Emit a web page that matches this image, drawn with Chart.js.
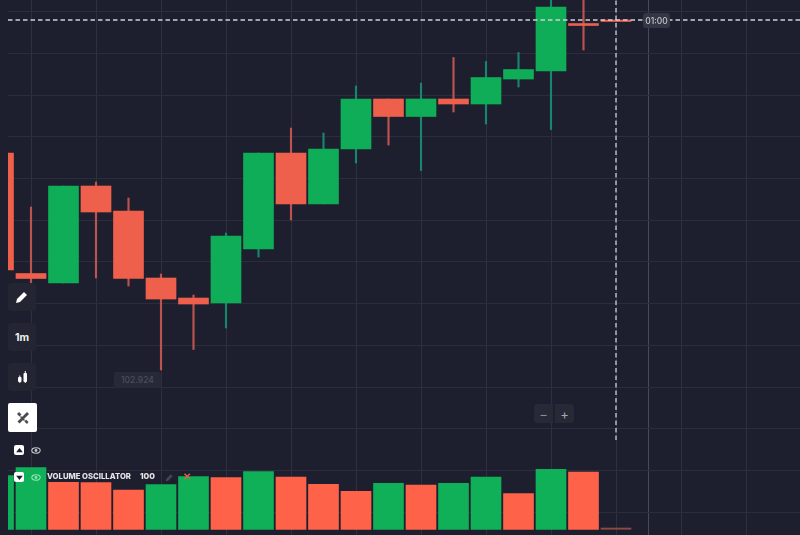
<!DOCTYPE html>
<html><head><meta charset="utf-8">
<script src="https://cdn.jsdelivr.net/npm/chart.js@4"></script>
<style>
html,body{margin:0;padding:0;background:#1d1f2e;width:800px;height:535px;overflow:hidden}
#wrap{position:relative;width:800px;height:535px;font-family:Inter,Roboto,sans-serif}
canvas{position:absolute;left:0;top:0}
.ov{position:absolute;display:flex;align-items:center;justify-content:center;box-sizing:border-box}
.btn{left:8px;width:28px;height:28px;background:#232533;border-radius:3px;color:#eee;font-weight:700;font-size:10.5px}
.sq{left:14px;width:10px;height:10px;background:#fff;border-radius:2px}
</style></head><body>
<div id="wrap"><canvas id="c" width="800" height="535"></canvas>

<div class="ov btn" style="top:283px"><svg width="14" height="14" viewBox="0 0 14 14"><path d="M1 13l1-4 7-7 3 3-7 7z" fill="#fff"/></svg></div>
<div class="ov btn" style="top:323px">1m</div>
<div class="ov btn" style="top:363px"><svg width="11" height="12" viewBox="0 0 11 12"><rect x="1" y="6" width="3.5" height="5" rx="1" fill="#fff"/><rect x="2.3" y="4.5" width="1" height="7.5" fill="#fff"/><rect x="6.5" y="2" width="3.5" height="9" rx="1" fill="#fff"/><rect x="7.8" y="0" width="1" height="12" fill="#fff"/></svg></div>
<div class="ov" style="left:8px;top:403px;width:29px;height:29px;background:#fff;border-radius:2px"><svg width="14" height="14" viewBox="0 0 14 14"><path d="M3 1l2.5 2.5L3.5 5.5 1 3z M10 8.5l2.5 2.500L11 13 8.500 10.500z M11 1l2 2-9.500 9.500-2-2z M5 5l4 4-1 1-4-4z" fill="#4a4a4f"/></svg></div>

<div class="ov sq" style="top:445px"><svg width="7" height="5" viewBox="0 0 8 6"><path d="M4 0l4 5H0z" fill="#1d1f2e"/></svg></div>
<div class="ov" style="left:30px;top:445px;width:11px;height:10px"><svg width="10" height="7" viewBox="0 0 11 8"><ellipse cx="5.500" cy="4" rx="4.800" ry="3.200" fill="none" stroke="#c5c6cc" stroke-width="1.200"/><circle cx="5.500" cy="4" r="1.600" fill="#c5c6cc"/></svg></div>
<div class="ov sq" style="top:472px"><svg width="7" height="5" viewBox="0 0 8 6"><path d="M4 6l4-5H0z" fill="#1d1f2e"/></svg></div>
<div class="ov" style="left:30px;top:472px;width:11px;height:10px"><svg width="10" height="7" viewBox="0 0 11 8"><ellipse cx="5.500" cy="4" rx="4.800" ry="3.200" fill="none" stroke="#8ce6b2" stroke-width="1.200"/><circle cx="5.500" cy="4" r="1.600" fill="#8ce6b2"/></svg></div>
<div class="ov" style="left:47px;top:470px;height:12px;color:#e4e5e8;font-size:7.700px;font-weight:800;white-space:nowrap">VOLUME OSCILLATOR</div>
<div class="ov" style="left:140px;top:470px;height:12px;color:#e4e5e8;font-size:8.200px;font-weight:800">100</div>
<div class="ov" style="left:164px;top:472px;width:10px;height:10px"><svg width="9" height="9" viewBox="0 0 14 14"><path d="M1 13l1-4 7-7 3 3-7 7z" fill="#44464f"/></svg></div>
<div class="ov" style="left:182px;top:471px;width:10px;height:10px;color:#d9644c;font-size:10px;font-weight:700">✕</div>

<div class="ov" style="left:114px;top:372px;width:47px;height:16px;background:#272937;border-radius:2px;color:#4c4e5b;font-size:8.500px;font-weight:500">102.924</div>
<div class="ov" style="left:534px;top:404px;width:19px;height:19px;background:#272937;border-radius:3px 0 0 3px;color:#8b8c96;font-size:13px">−</div>
<div class="ov" style="left:555px;top:404px;width:19px;height:19px;background:#272937;border-radius:0 3px 3px 0;color:#a6a7af;font-size:13px">+</div>
<div class="ov" style="left:643px;top:13px;width:27px;height:15px;background:#343646;border-radius:3px;color:#c6c7cd;font-size:8.500px;font-weight:500">01:00</div>
</div>
<script>
const candleIndex = [0,1,2,3,4,5,6,7,8,9,10,11,12,13,14,15,16,17,18,19];
const opens  = [102.97612,102.94722,102.94494,102.96820,102.96221,102.94614,102.94134,102.94014,102.95309,102.97612,102.96389,102.97707,102.98907,102.98487,102.98907,102.98787,102.99386,102.99578,103.00717,103.00801];
const closes = [102.94806,102.94602,102.96820,102.96197,102.94602,102.94110,102.93990,102.95621,102.97612,102.96389,102.97707,102.98907,102.98487,102.98907,102.98787,102.99422,102.99614,103.01113,103.00669,103.00765];
const highs  = [102.97612,102.96317,102.96820,102.96916,102.96532,102.94710,102.94206,102.95693,102.97612,102.98211,102.98091,102.99218,102.98907,102.99290,102.99902,102.99806,103.00022,103.01401,103.01401,103.00801];
const lows   = [102.94806,102.94014,102.94494,102.94614,102.94422,102.92408,102.92899,102.93415,102.95118,102.96005,102.96389,102.97372,102.97803,102.97192,102.98595,102.98307,102.99194,102.98175,103.00082,103.00765];
const volumes = [53.6,61.6,47,46.6,39.3,44.6,52.8,51.6,57.6,52.3,45,38,46,44.3,46,52.3,35.6,60,57.3,1.3];
const volumeUp = [1,1,0,0,0,1,1,0,1,0,0,0,1,0,1,1,0,1,0,0];
const currentPrice = 103.00801;
const cursorIndex = 19;
const cursorLowPrice = 102.90729;
const timeGridTicks = [1,3,5,7,9,11,13,15,17,19,20,21,23];
const priceGridTicks = [102.89,102.90,102.91,102.92,102.93,102.94,102.95,102.96,102.97,102.98,102.99,103.00,103.01];
const xRange = [0.2923,24.6615];
const priceRange = [102.88451,103.01281];
const volumeRange = [-5.7,529.3];

const GREEN='#0fad57', RED='#ee5f4c', VGREEN='#10b059', VRED='#fe6349';
const WGREEN='#17866a', WRED='#bc5350';
const up=i=>closes[i]>=opens[i];

new Chart(document.getElementById('c'),{
  type:'bar',
  data:{datasets:[
    {type:'line',label:'price',order:1,data:[{x:xRange[0],y:currentPrice},{x:xRange[1],y:currentPrice}],
     borderColor:'#cfcfd6',borderWidth:1.3,borderDash:[4.5,3],pointRadius:0,yAxisID:'y',xAxisID:'x'},
    {type:'line',label:'cursor',order:1,data:[{x:cursorIndex,y:cursorLowPrice},{x:cursorIndex,y:priceRange[1]}],
     borderColor:'#cfcfd6',borderWidth:1.3,borderDash:[4.5,3],pointRadius:0,yAxisID:'y',xAxisID:'x'},
    {label:'wick',order:3,data:candleIndex.map(i=>({x:i,y:[lows[i],highs[i]]})),
     backgroundColor:candleIndex.map(i=>up(i)?WGREEN:WRED),barThickness:1.5,grouped:false,yAxisID:'y',xAxisID:'x'},
    {label:'body',order:2,data:candleIndex.map(i=>({x:i,y:[opens[i],closes[i]]})),
     backgroundColor:candleIndex.map(i=>up(i)?GREEN:RED),barThickness:30,grouped:false,yAxisID:'y',xAxisID:'x'},
    {label:'volume',order:2,data:candleIndex.map(i=>({x:i,y:volumes[i]})),
     backgroundColor:candleIndex.map(i=>i===19?'#8e4a42':(volumeUp[i]?VGREEN:VRED)),barThickness:30,grouped:false,yAxisID:'v',xAxisID:'x'}
  ]},
  options:{
    responsive:false,animation:false,
    layout:{padding:{left:8,right:0,top:0,bottom:0}},
    plugins:{legend:{display:false},tooltip:{enabled:false}},
    scales:{
      x:{type:'linear',offset:false,min:xRange[0],max:xRange[1],
         afterBuildTicks:a=>{a.ticks=timeGridTicks.map(value=>({value}))},
         ticks:{display:false},border:{display:false},
         grid:{offset:false,drawTicks:false,lineWidth:1,color:c=>c.tick&&c.tick.value===20?'#484a5c':'#2e3040'}},
      y:{min:priceRange[0],max:priceRange[1],
         afterBuildTicks:a=>{a.ticks=priceGridTicks.map(value=>({value}))},
         ticks:{display:false},border:{display:false},
         grid:{drawTicks:false,lineWidth:1,color:'#2b2d3d'}},
      v:{min:volumeRange[0],max:volumeRange[1],display:false}
    }
  }
});
</script>
</body></html>
